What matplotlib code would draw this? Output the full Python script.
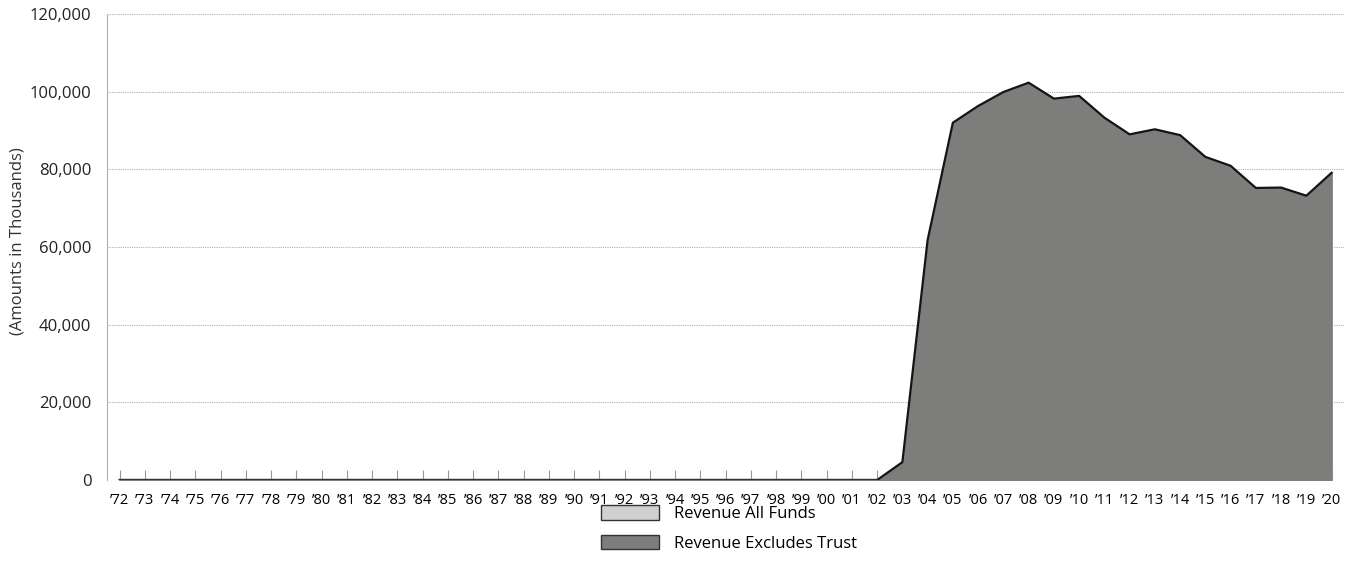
import numpy as np
import matplotlib.pyplot as plt
from matplotlib.ticker import FuncFormatter
from matplotlib.patches import Patch

plt.rcParams['font.family'] = ['Open Sans', 'DejaVu Sans']

years = list(range(1972, 2021))
excl_trust = [0] * 31 + [4600, 61800, 92000, 96300, 99900, 102300, 98200, 98900,
                          93300, 89000, 90300, 88800, 83200, 80900, 75200, 75300,
                          73200, 79100]
all_funds = list(excl_trust)
year_labels = ["\u2019%02d" % (y % 100) for y in years]

fig = plt.figure(figsize=(13.5, 5.67), dpi=100)
ax = fig.add_axes([0.079, 0.1534, 0.917, 0.822])

ax.fill_between(years, all_funds, color="#d0d0d0", zorder=2)
ax.fill_between(years, excl_trust, color="#7d7e7c", zorder=3)
ax.plot(years, excl_trust, color="#151515", lw=1.6, zorder=4)
ax.plot(years[:31], excl_trust[:31], color="#1f3d2a", lw=1.6, zorder=5)

ax.set_xlim(1971.485, 2020.515)
ax.set_ylim(0, 120000)
ax.set_yticks(np.arange(0, 120001, 20000))
ax.yaxis.set_major_formatter(FuncFormatter(lambda v, p: "{:,.0f}".format(v)))
ax.set_xticks(years)
ax.set_xticklabels(year_labels)

ax.grid(axis="y", color="#b0b0b0", lw=0.8, ls=(0, (1, 1)), zorder=1)
for s in ["top", "right", "bottom"]:
    ax.spines[s].set_visible(False)
ax.spines["left"].set_color("#b0b0b0")
ax.spines["left"].set_linestyle((0, (1, 1)))

ax.tick_params(axis="x", direction="in", length=7.5, color="#999999", labelsize=10.5, pad=9)
ax.tick_params(axis="y", length=0, labelsize=12, pad=11, colors="#222222")
fig.text(0.013, 0.575, "(Amounts in Thousands)", rotation=90, ha="center", va="center",
         fontsize=12, color="#333333")

handles = [Patch(facecolor="#d0d0d0", edgecolor="#333333", lw=1),
           Patch(facecolor="#7d7e7c", edgecolor="#333333", lw=1)]
fig.legend(handles, ["Revenue All Funds", "Revenue Excludes Trust"],
           loc="upper left", bbox_to_anchor=(0.434, 0.136), frameon=False,
           fontsize=12, handlelength=3.5, handleheight=1.0, labelspacing=0.75,
           handletextpad=0.9)

fig.savefig("out.png", dpi=100)
